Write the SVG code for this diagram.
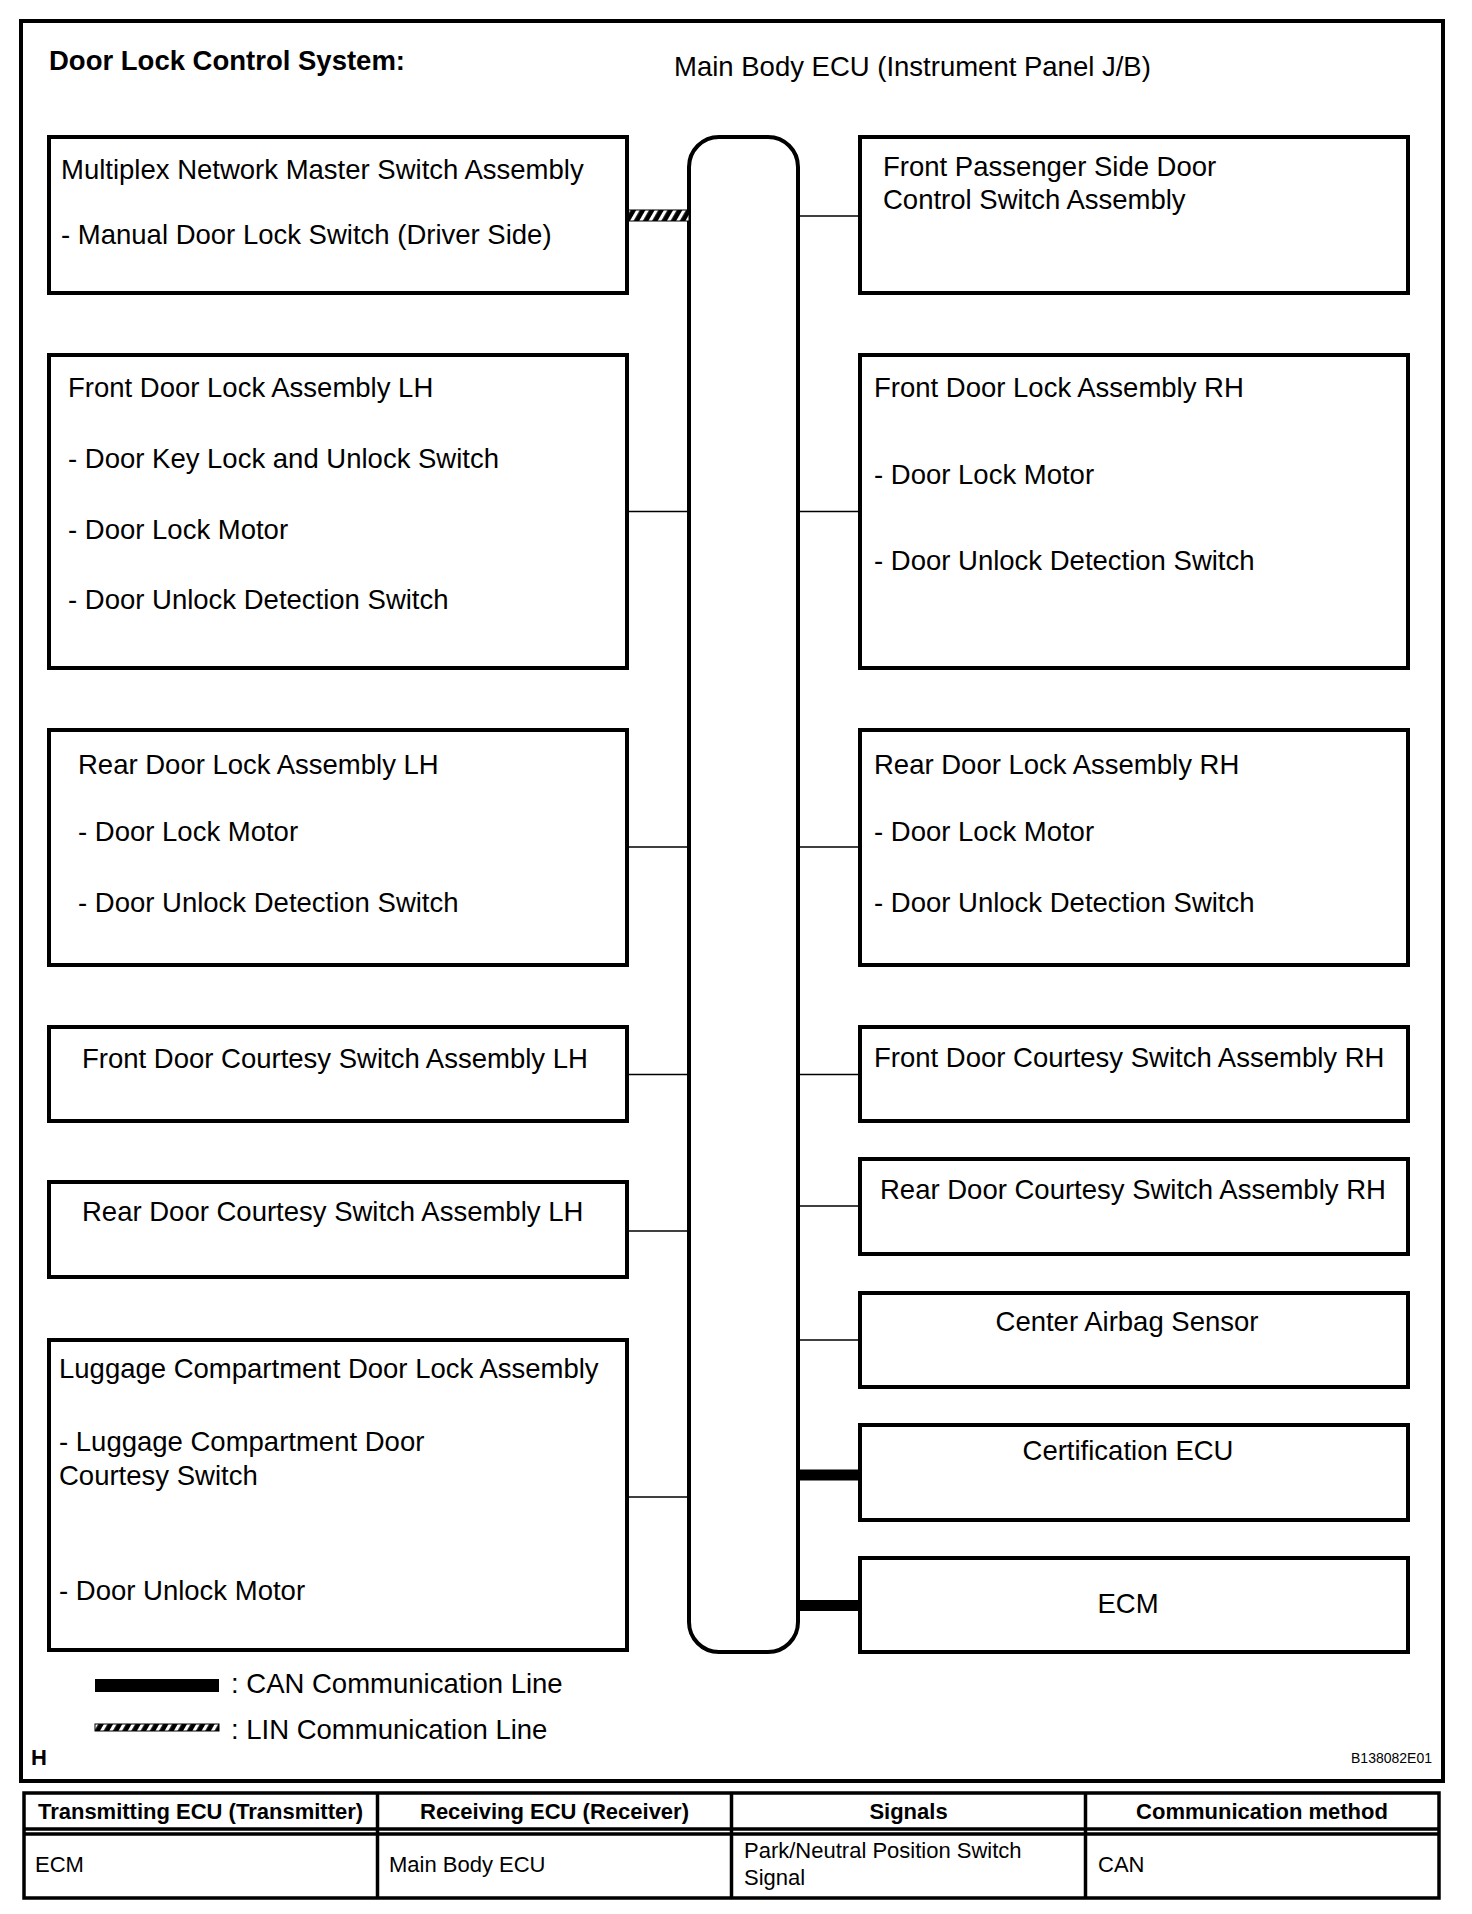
<svg xmlns="http://www.w3.org/2000/svg" width="1472" height="1914" viewBox="0 0 1472 1914">
<style>
text{font-family:"Liberation Sans",Arial,Helvetica,sans-serif;fill:#000}
.t{font-size:27.5px}
.b{font-weight:bold}
.tb{font-size:22px}
.box{fill:#fff;stroke:#000;stroke-width:4}
.thin{stroke:#000;stroke-width:1.6;fill:none}
.tl{stroke:#000;stroke-width:3.5;fill:none}
.mid{text-anchor:middle}
</style>
<defs>
<pattern id="lin" width="8" height="8" patternUnits="userSpaceOnUse" patternTransform="rotate(30)">
<rect width="8" height="8" fill="#000"/>
<rect width="3.2" height="8" fill="#fff"/>
</pattern>
</defs>
<rect width="1472" height="1914" fill="#fff"/>
<g id="frame">
<rect x="21" y="21" width="1422" height="1760" fill="none" stroke="#000" stroke-width="4"/>
<text x="49" y="70" class="t b">Door Lock Control System:</text>
<text x="31" y="1765" font-size="22" class="b">H</text>
<text x="1432" y="1763" font-size="14" text-anchor="end">B138082E01</text>
</g>
<g id="bus">
<rect x="689" y="137" width="109" height="1515" rx="30" ry="30" fill="#fff" stroke="#000" stroke-width="4"/>
<text x="674" y="76" class="t">Main Body ECU (Instrument Panel J/B)</text>
</g>
<g id="connectors">
<rect x="627" y="210" width="62" height="11" fill="url(#lin)" stroke="#000" stroke-width="1"/>
<line class="thin" x1="798" y1="216" x2="859" y2="216"/>
<line class="thin" x1="627" y1="511.5" x2="689" y2="511.5"/>
<line class="thin" x1="798" y1="511.5" x2="859" y2="511.5"/>
<line class="thin" x1="627" y1="847" x2="689" y2="847"/>
<line class="thin" x1="798" y1="847" x2="859" y2="847"/>
<line class="thin" x1="627" y1="1074.5" x2="689" y2="1074.5"/>
<line class="thin" x1="798" y1="1074.5" x2="859" y2="1074.5"/>
<line class="thin" x1="627" y1="1231" x2="689" y2="1231"/>
<line class="thin" x1="798" y1="1206" x2="859" y2="1206"/>
<line class="thin" x1="798" y1="1340" x2="859" y2="1340"/>
<line class="thin" x1="627" y1="1497" x2="689" y2="1497"/>
<rect x="798" y="1469.5" width="61" height="11" fill="#000"/>
<rect x="798" y="1600" width="61" height="11" fill="#000"/>
</g>
<g id="node-multiplex">
<rect class="box" x="49" y="137" width="578" height="156"/>
<text x="61" y="179" class="t">Multiplex Network Master Switch Assembly</text>
<text x="61" y="244" class="t">- Manual Door Lock Switch (Driver Side)</text>
</g>
<g id="node-front-passenger">
<rect class="box" x="860" y="137" width="548" height="156"/>
<text x="883" y="176" class="t">Front Passenger Side Door</text>
<text x="883" y="209" class="t">Control Switch Assembly</text>
</g>
<g id="node-front-lh">
<rect class="box" x="49" y="355" width="578" height="313"/>
<text x="68" y="397" class="t">Front Door Lock Assembly LH</text>
<text x="68" y="468" class="t">- Door Key Lock and Unlock Switch</text>
<text x="68" y="538.5" class="t">- Door Lock Motor</text>
<text x="68" y="609" class="t">- Door Unlock Detection Switch</text>
</g>
<g id="node-front-rh">
<rect class="box" x="860" y="355" width="548" height="313"/>
<text x="874" y="397" class="t">Front Door Lock Assembly RH</text>
<text x="874" y="483.5" class="t">- Door Lock Motor</text>
<text x="874" y="570" class="t">- Door Unlock Detection Switch</text>
</g>
<g id="node-rear-lh">
<rect class="box" x="49" y="730" width="578" height="235"/>
<text x="78" y="774" class="t">Rear Door Lock Assembly LH</text>
<text x="78" y="841" class="t">- Door Lock Motor</text>
<text x="78" y="912" class="t">- Door Unlock Detection Switch</text>
</g>
<g id="node-rear-rh">
<rect class="box" x="860" y="730" width="548" height="235"/>
<text x="874" y="774" class="t">Rear Door Lock Assembly RH</text>
<text x="874" y="841" class="t">- Door Lock Motor</text>
<text x="874" y="912" class="t">- Door Unlock Detection Switch</text>
</g>
<g id="node-front-courtesy-lh">
<rect class="box" x="49" y="1027" width="578" height="94"/>
<text x="82" y="1068" class="t">Front Door Courtesy Switch Assembly LH</text>
</g>
<g id="node-front-courtesy-rh">
<rect class="box" x="860" y="1027" width="548" height="94"/>
<text x="874" y="1067" class="t">Front Door Courtesy Switch Assembly RH</text>
</g>
<g id="node-rear-courtesy-lh">
<rect class="box" x="49" y="1182" width="578" height="95"/>
<text x="82" y="1221" class="t">Rear Door Courtesy Switch Assembly LH</text>
</g>
<g id="node-rear-courtesy-rh">
<rect class="box" x="860" y="1159" width="548" height="95"/>
<text x="880" y="1199" class="t">Rear Door Courtesy Switch Assembly RH</text>
</g>
<g id="node-airbag">
<rect class="box" x="860" y="1293" width="548" height="94"/>
<text x="1127" y="1331" class="t mid">Center Airbag Sensor</text>
</g>
<g id="node-certification">
<rect class="box" x="860" y="1425" width="548" height="95"/>
<text x="1128" y="1460" class="t mid">Certification ECU</text>
</g>
<g id="node-ecm">
<rect class="box" x="860" y="1558" width="548" height="94"/>
<text x="1128" y="1613" class="t mid">ECM</text>
</g>
<g id="node-luggage">
<rect class="box" x="49" y="1340" width="578" height="310"/>
<text x="59" y="1378" class="t">Luggage Compartment Door Lock Assembly</text>
<text x="59" y="1451" class="t">- Luggage Compartment Door</text>
<text x="59" y="1485" class="t">Courtesy Switch</text>
<text x="59" y="1600" class="t">- Door Unlock Motor</text>
</g>
<g id="legend">
<rect x="95" y="1679" width="124" height="13" fill="#000"/>
<text x="231" y="1693" class="t">: CAN Communication Line</text>
<rect x="95" y="1724" width="124" height="7" fill="url(#lin)" stroke="#000" stroke-width="1"/>
<text x="231" y="1739" class="t">: LIN Communication Line</text>
</g>
<g id="table">
<rect class="tl" x="24" y="1793" width="1415" height="105"/>
<line class="tl" x1="24" y1="1829" x2="1439" y2="1829" stroke-width="2.5"/>
<line class="tl" x1="24" y1="1834" x2="1439" y2="1834" stroke-width="2.5"/>
<line class="tl" x1="377.5" y1="1793" x2="377.5" y2="1898"/>
<line class="tl" x1="731.5" y1="1793" x2="731.5" y2="1898"/>
<line class="tl" x1="1085.5" y1="1793" x2="1085.5" y2="1898"/>
<text x="200.5" y="1819" class="tb b mid">Transmitting ECU (Transmitter)</text>
<text x="554.5" y="1819" class="tb b mid">Receiving ECU (Receiver)</text>
<text x="908.5" y="1819" class="tb b mid">Signals</text>
<text x="1262" y="1819" class="tb b mid">Communication method</text>
<text x="35" y="1872" class="tb">ECM</text>
<text x="389" y="1872" class="tb">Main Body ECU</text>
<text x="744" y="1858" class="tb">Park/Neutral Position Switch</text>
<text x="744" y="1885" class="tb">Signal</text>
<text x="1098" y="1872" class="tb">CAN</text>
</g>
</svg>
